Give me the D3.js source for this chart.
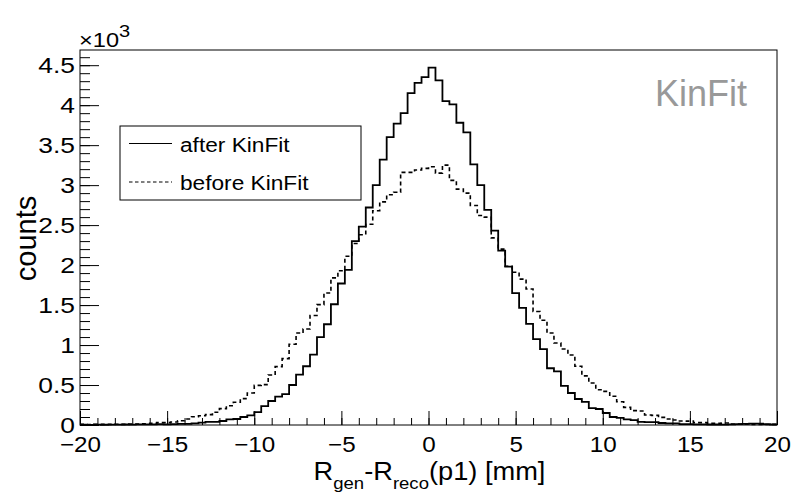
<!DOCTYPE html>
<html>
<head>
<meta charset="utf-8">
<script src="https://cdn.jsdelivr.net/npm/d3@7"></script>
<style>
  body { margin: 0; background: #fff; }
  svg { font-family: "Liberation Sans", Arial, Helvetica, sans-serif; }
</style>
</head>
<body>
<svg id="chart" width="800" height="500"></svg>
<script>
// histogram binning: 100 bins of 0.4 mm between -20 and 20
var xMin = -20, xMax = 20, binWidth = 0.4;

// counts per bin
var afterKinFit = [
  3, 2, 4, 3, 5, 4, 6, 5, 7, 8, 8, 10, 9, 12, 14, 15, 20,
  30, 40, 40, 50, 70, 75, 100, 120, 160, 235, 300, 355, 385,
  500, 630, 735, 880, 1100, 1260, 1510, 1770, 1940, 2300, 2480, 2720, 3000, 3320, 3600, 3770, 3900, 4150, 4280, 4350,
  4470, 4310, 4050, 4010, 3780, 3660, 3260, 3000, 2690, 2430, 2180, 1980, 1650, 1465, 1265, 1075, 950, 710, 670, 490,
  400, 325, 290, 210, 200, 150, 100, 90, 70, 60, 40, 37, 35, 25, 20, 20, 12,
  10, 8, 7, 6, 6, 5, 8, 12, 15, 18, 16, 10, 6
];
var beforeKinFit = [
  8, 7, 9, 8, 8, 9, 8, 12, 12, 16, 20, 30, 30, 38, 54, 75, 104,
  115, 130, 160, 205, 240, 285, 330, 400, 495, 505, 625, 730, 830,
  1010, 1150, 1200, 1370, 1505, 1650, 1840, 1930, 2110, 2270, 2380, 2510, 2680, 2790, 2880, 2910, 3160, 3160, 3190, 3210,
  3230, 3150, 3250, 3060, 2950, 2900, 2745, 2620, 2600, 2340, 2200, 1985, 1910, 1825, 1700, 1420, 1310, 1150, 1025, 950,
  875, 735, 615, 525, 440, 420, 360, 290, 220, 180, 175, 125, 120, 95, 75, 62, 50,
  48, 30, 30, 20, 20, 25, 12, 12, 10, 8, 8, 6, 8
];

var xTicks = [-20, -15, -10, -5, 0, 5, 10, 15, 20];
var xMinorTicks = d3.range(-20, 21, 1);
var yTicks = [0, 500, 1000, 1500, 2000, 2500, 3000, 3500, 4000, 4500];
var yMinorTicks = d3.range(0, 4700, 100);
var yMax = 4690;

var legendLabels = ['after KinFit', 'before KinFit'];

var frame = { left: 80, right: 777, top: 50, bottom: 425 };

var svg = d3.select('#chart');

var x = d3.scaleLinear().domain([xMin, xMax]).range([frame.left, frame.right]);
var y = d3.scaleLinear().domain([0, yMax]).range([frame.bottom, frame.top]);

// text in the original is a bit wider than Liberation Sans, stretch it sideways
function stretched(parent, px, py, sx) {
  return parent.append('text')
    .attr('transform', 'translate(' + px + ',' + py + ') scale(' + sx + ',1)');
}

// frame box
svg.append('rect')
  .attr('x', frame.left).attr('y', frame.top)
  .attr('width', frame.right - frame.left)
  .attr('height', frame.bottom - frame.top)
  .attr('fill', 'none').attr('stroke', '#000').attr('stroke-width', 1);

// step outline of a histogram
function steps(values) {
  var pts = [];
  values.forEach(function(v, i) {
    var lo = xMin + i * binWidth;
    pts.push([lo, v], [lo + binWidth, v]);
  });
  return pts;
}

var line = d3.line()
  .x(function(d) { return x(d[0]); })
  .y(function(d) { return y(d[1]); });

svg.append('path')
  .attr('d', line(steps(beforeKinFit)))
  .attr('fill', 'none').attr('stroke', '#000')
  .attr('stroke-width', 1.6).attr('stroke-dasharray', '4,3');

svg.append('path')
  .attr('d', line(steps(afterKinFit)))
  .attr('fill', 'none').attr('stroke', '#000')
  .attr('stroke-width', 1.8);

// x axis, ticks drawn inward like ROOT
var xMinorAxis = d3.axisBottom(x).tickValues(xMinorTicks).tickSizeInner(-7).tickSizeOuter(0).tickFormat('');
var xAxis = d3.axisBottom(x).tickValues(xTicks).tickSizeInner(-14).tickSizeOuter(0)
  .tickFormat(d3.format('d'));

svg.append('g').attr('transform', 'translate(0,' + frame.bottom + ')').call(xMinorAxis)
  .call(function(g) { g.select('.domain').remove(); });
var gx = svg.append('g').attr('transform', 'translate(0,' + frame.bottom + ')').call(xAxis);
gx.select('.domain').remove();
gx.selectAll('text')
  .attr('y', 27).attr('dy', 0)
  .attr('transform', 'scale(1.1,1)')
  .attr('fill', '#000')
  .style('font-size', '22px')
  .style('font-family', '"Liberation Sans", Arial, sans-serif');

// y axis
var yMinorAxis = d3.axisLeft(y).tickValues(yMinorTicks).tickSizeInner(-10).tickSizeOuter(0).tickFormat('');
var yAxis = d3.axisLeft(y).tickValues(yTicks).tickSizeInner(-19).tickSizeOuter(0).tickPadding(5)
  .tickFormat(function(d) { return d3.format('~g')(d / 1000); });

svg.append('g').attr('transform', 'translate(' + frame.left + ',0)').call(yMinorAxis)
  .call(function(g) { g.select('.domain').remove(); });
var gy = svg.append('g').attr('transform', 'translate(' + frame.left + ',0)').call(yAxis);
gy.select('.domain').remove();
gy.selectAll('text')
  .attr('x', -5 / 1.2)
  .attr('transform', 'scale(1.2,1)')
  .attr('fill', '#000')
  .style('font-size', '22px')
  .style('font-family', '"Liberation Sans", Arial, sans-serif');

// exponent label
var expo = stretched(svg, 79, 46.5, 1.18).style('font-size', '20px');
expo.append('tspan').text('\u00d710');
expo.append('tspan').attr('dy', -9.5).style('font-size', '17px').text('3');

// axis titles
svg.append('text')
  .attr('transform', 'translate(36,' + ((frame.top + frame.bottom) / 2 + 1) + ') rotate(-90)')
  .attr('text-anchor', 'middle')
  .style('font-size', '29px')
  .text('counts');

var xt = stretched(svg, (frame.left + frame.right) / 2 + 1, 479.5, 1.09)
  .attr('text-anchor', 'middle')
  .style('font-size', '25px');
xt.append('tspan').text('R');
xt.append('tspan').attr('dy', 9).style('font-size', '17px').text('gen');
xt.append('tspan').attr('dy', -9).text('-R');
xt.append('tspan').attr('dy', 9).style('font-size', '17px').text('reco');
xt.append('tspan').attr('dy', -9).text('(p1) [mm]');

// legend
var legend = svg.append('g');
legend.append('rect')
  .attr('x', 120).attr('y', 126).attr('width', 241).attr('height', 74)
  .attr('fill', '#fff').attr('stroke', '#000').attr('stroke-width', 1);

legendLabels.forEach(function(label, i) {
  var ly = 143.5 + i * 38.5;
  legend.append('line')
    .attr('x1', 129).attr('x2', 172).attr('y1', ly).attr('y2', ly)
    .attr('stroke', '#000').attr('stroke-width', 1)
    .attr('stroke-dasharray', i === 1 ? '3.5,2.5' : null);
  stretched(legend, 180, ly + 8, 1.08)
    .style('font-size', '21px')
    .text(label);
});

// tag
svg.append('text')
  .attr('x', 655).attr('y', 105.5)
  .attr('fill', '#999999')
  .style('font-size', '36px')
  .text('KinFit');
</script>
</body>
</html>
